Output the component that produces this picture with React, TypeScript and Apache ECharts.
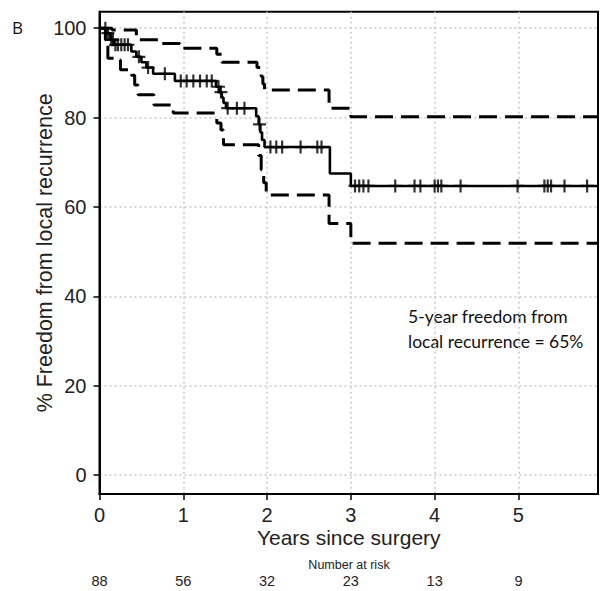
import React, { useEffect, useRef } from "react";
import * as echarts from "echarts";

// Kaplan-Meier estimate: [years, % free from local recurrence]
const kmSteps: [number, number][] = [
  [0, 100], [0.08, 98.9], [0.13, 97.4], [0.17, 96.3], [0.38, 94.8], [0.44, 93.6],
  [0.5, 92.4], [0.56, 91.2], [0.64, 89.8], [0.9, 88.2], [1.39, 86.9], [1.43, 85.7],
  [1.46, 84.5], [1.48, 83.3], [1.51, 82.1], [1.87, 80.3], [1.9, 78.5], [1.92, 76.7],
  [1.94, 75.0], [1.97, 73.4], [2.75, 67.5], [3.0, 64.7], [5.95, 64.7],
];

// Upper 95% confidence limit
const upperSteps: [number, number][] = [
  [0, 100], [0.15, 99.6], [0.44, 97.4], [0.72, 96.6], [0.96, 95.5], [1.4, 94.2],
  [1.46, 92.4], [1.88, 91.2], [1.93, 89.2], [1.95, 87.5], [1.97, 86.2], [2.74, 82.1],
  [3.0, 80.2], [5.95, 80.2],
];

// Lower 95% confidence limit
const lowerSteps: [number, number][] = [
  [0, 100], [0.07, 97.4], [0.1, 93.3], [0.22, 92.9], [0.25, 90.7], [0.38, 89.5],
  [0.42, 87.3], [0.46, 85.1], [0.65, 82.8], [0.88, 81.0], [1.4, 78.8], [1.45, 77.2],
  [1.48, 73.9], [1.9, 71.5], [1.93, 68.3], [1.96, 65.4], [1.99, 62.7], [2.74, 56.3],
  [3.0, 51.9], [5.95, 51.9],
];

// Censored observations
const censored: [number, number][] = [
  [0.07, 100], [0.1, 98.9], [0.14, 97.4], [0.16, 97.4], [0.19, 96.3], [0.22, 96.3],
  [0.26, 96.3], [0.3, 96.3], [0.34, 96.3], [0.47, 93.6], [0.58, 91.2], [0.78, 89.8],
  [0.97, 88.2], [1.04, 88.2], [1.12, 88.2], [1.2, 88.2], [1.28, 88.2], [1.34, 88.2],
  [1.42, 86.9], [1.45, 85.7], [1.53, 82.1], [1.64, 82.1], [1.73, 82.1], [1.91, 78.5],
  [2.04, 73.4], [2.11, 73.4], [2.18, 73.4], [2.4, 73.4], [2.6, 73.4], [2.65, 73.4],
  [3.05, 64.7], [3.1, 64.7], [3.15, 64.7], [3.21, 64.7], [3.53, 64.7], [3.76, 64.7],
  [3.83, 64.7], [4.0, 64.7], [4.04, 64.7], [4.08, 64.7], [4.31, 64.7], [4.99, 64.7],
  [5.31, 64.7], [5.35, 64.7], [5.39, 64.7], [5.55, 64.7], [5.82, 64.7],
];

const xTicks = [0, 1, 2, 3, 4, 5];
const yTicks = [0, 20, 40, 60, 80, 100];
const atRisk = [88, 56, 32, 23, 13, 9];

const PLUS = "path://M5.4,0H7.6V5.4H13V7.6H7.6V13H5.4V7.6H0V5.4H5.4Z";
const FONT = "'Liberation Sans', Arial, sans-serif";

export default function App() {
  const ref = useRef<HTMLDivElement>(null);
  useEffect(() => {
    document.body.style.margin = "0";
    const chart = echarts.init(ref.current!, null, { renderer: "svg" });
    const grid = "#c8c8c8";
    chart.setOption({
      animation: false,
      backgroundColor: "#fff",
      grid: {
        left: 99.5, right: 3, top: 11.7, bottom: 97,
        show: true, borderColor: "#000", borderWidth: 2, backgroundColor: "transparent",
      },
      xAxis: [
        {
          type: "value", min: 0, max: 5.95, position: "bottom",
          name: "Years since surgery", nameLocation: "middle", nameGap: 33, nameMoveOverlap: false,
          nameTextStyle: { fontFamily: FONT, fontSize: 21, color: "#222" },
          axisLine: { show: true, onZero: false, lineStyle: { color: "#000", width: 2 } },
          axisTick: { show: true, inside: false, customValues: xTicks, length: 6, lineStyle: { color: "#000", width: 1.5 } },
          axisLabel: { customValues: xTicks, fontFamily: FONT, fontSize: 20, color: "#222", margin: 11 },
          splitLine: { show: true, lineStyle: { color: grid, type: [2, 3], width: 1.5 } },
        },
        {
          type: "value", min: 0, max: 5.95, position: "bottom", offset: 77,
          axisLine: { show: false, onZero: false }, axisTick: { show: false }, splitLine: { show: false },
          axisLabel: {
            customValues: xTicks, fontFamily: FONT, fontSize: 14.5, color: "#222", margin: 2,
            formatter: (v: number) => String(atRisk[Math.round(v)] ?? ""),
          },
        },
      ],
      yAxis: {
        type: "value", min: -4.25, max: 103.7,
        name: "% Freedom from local recurrence", nameLocation: "middle", nameGap: 44, nameMoveOverlap: false,
        nameTextStyle: { fontFamily: FONT, fontSize: 21.5, color: "#222" },
        axisLine: { show: true, onZero: false, lineStyle: { color: "#000", width: 2 } },
        axisTick: { show: true, inside: false, customValues: yTicks, length: 6, lineStyle: { color: "#000", width: 1.5 } },
        axisLabel: { customValues: yTicks, fontFamily: FONT, fontSize: 20, color: "#222", margin: 13 },
        splitLine: { show: true, lineStyle: { color: grid, type: [2, 3], width: 1.5 } },
      },
      series: [
        {
          type: "line", step: "end", data: upperSteps, showSymbol: false, z: 3,
          lineStyle: { color: "#000", width: 3, type: [18, 8] },
        },
        {
          type: "line", step: "end", data: lowerSteps, showSymbol: false, z: 3,
          lineStyle: { color: "#000", width: 3, type: [18, 8] },
        },
        {
          type: "line", step: "end", data: kmSteps, showSymbol: false, z: 4,
          lineStyle: { color: "#000", width: 2.6 },
        },
        {
          type: "scatter", data: censored, symbol: PLUS, symbolSize: 13, z: 5,
          itemStyle: { color: "#000" },
        },
      ],
      graphic: [
        {
          type: "text", left: 12, top: 19,
          style: { text: "B", fontFamily: "'Open Sans', sans-serif", fontSize: 17, fill: "#111" },
        },
        {
          type: "text", x: 349, y: 565,
          style: {
            text: "Number at risk", fontFamily: FONT, fontSize: 12.5, fill: "#222",
            align: "center", verticalAlign: "middle",
          },
        },
        {
          type: "text", x: 408, y: 304,
          style: {
            text: "5-year freedom from\nlocal recurrence = 65%", fontFamily: "Lato, sans-serif",
            fontSize: 17.5, lineHeight: 25, fill: "#111", verticalAlign: "top",
          },
        },
      ],
    });
    return () => chart.dispose();
  }, []);
  return <div ref={ref} style={{ width: 601, height: 591 }} />;
}
